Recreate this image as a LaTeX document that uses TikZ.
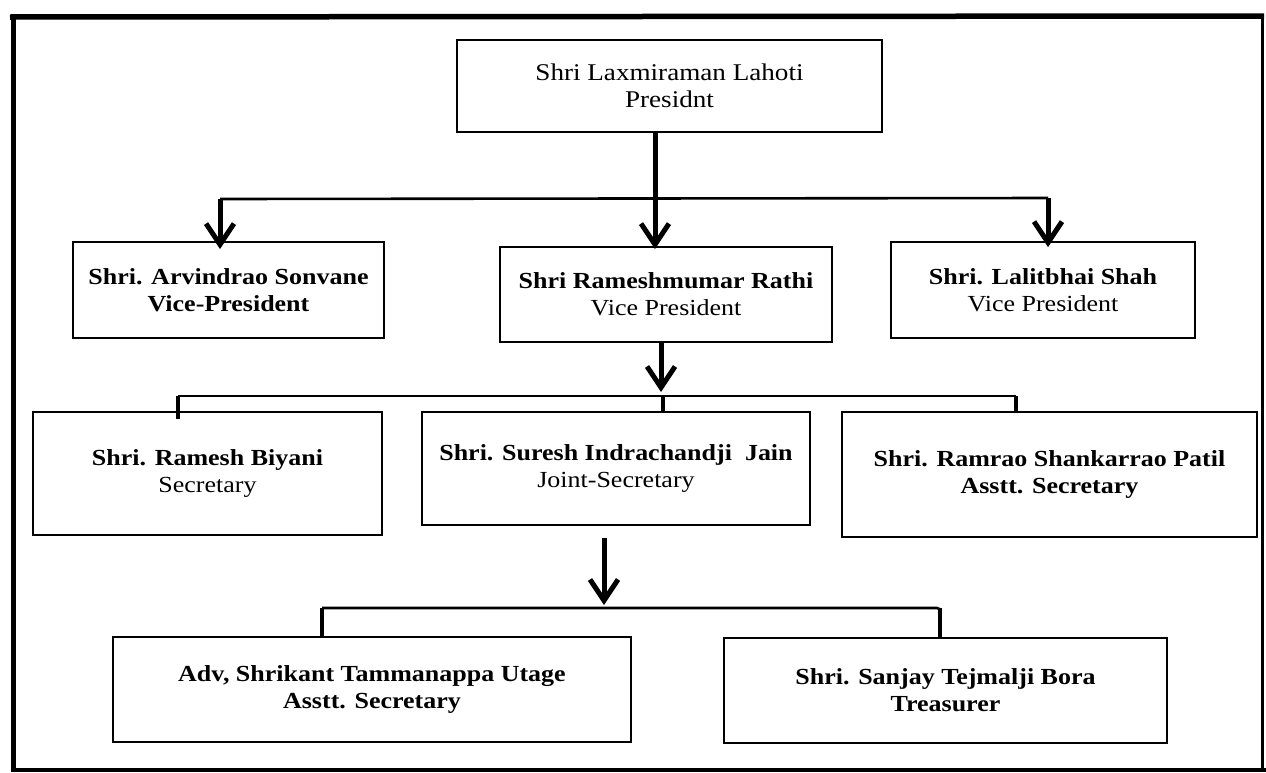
\documentclass[tikz,border=0pt]{standalone}
\usepackage{fontspec}
\setmainfont{Liberation Serif}[FakeStretch=1.13]
\usetikzlibrary{arrows.meta}
\tikzset{
  box/.style={draw, line width=1.8pt, inner sep=0pt, align=center,
    font=\fontsize{23}{27}\selectfont},
  shaft/.style={line width=5pt, -{Straight Barb[length=21pt,width=28pt]}},
  drop/.style={line width=4.5pt},
  bar/.style={line width=2.6pt},
  frameline/.style={line width=#1}
}
\begin{document}
\begin{tikzpicture}[x=1pt,y=-1pt]
\useasboundingbox (0,0) rectangle (1266,772);
% outer frame
\draw[frameline=5.5pt] (10,17) -- (1264,16);
\draw[frameline=5pt] (13,14) -- (13,772);
\draw[frameline=4pt] (13,769.5) -- (1266,769.5);
\draw[frameline=3pt] (1262,14) -- (1262,772);

% boxes
\node[box, minimum width=425pt, minimum height=92pt] (pres) at (669.5,86)
  {\fontsize{24}{27}\selectfont Shri Laxmiraman Lahoti\\\fontsize{24}{27}\selectfont Presidnt};
\node[box, minimum width=311pt, minimum height=96pt] (sonv) at (228.5,290)
  {\textbf{Shri. Arvindrao Sonvane}\\\textbf{Vice-President}};
\node[box, minimum width=332pt, minimum height=95pt] (rathi) at (666,294.5)
  {\textbf{Shri Rameshmumar Rathi}\\Vice President};
\node[box, minimum width=304pt, minimum height=96pt] (lalit) at (1043,290)
  {\textbf{Shri. Lalitbhai Shah}\\Vice President};
\node[box, minimum width=349pt, minimum height=123pt] (ramesh) at (207.5,473.5)
  {\textbf{Shri. Ramesh Biyani}\\Secretary};
\node[box, minimum width=388pt, minimum height=113pt] (jain) at (616,468.5)
  {\textbf{Shri. Suresh Indrachandji\ \ Jain}\\Joint-Secretary};
\node[box, minimum width=415pt, minimum height=125pt] (patil) at (1049.5,474.5)
  {\textbf{Shri. Ramrao Shankarrao Patil}\\\textbf{Asstt. Secretary}};
\node[box, minimum width=518pt, minimum height=105pt] (utage) at (372,689.5)
  {\textbf{Adv, Shrikant Tammanappa Utage}\\\textbf{Asstt. Secretary}};
\node[box, minimum width=443pt, minimum height=105pt] (bora) at (945.5,690.5)
  {\textbf{Shri. Sanjay Tejmalji Bora}\\\textbf{Treasurer}};

% bar coordinates
\coordinate (b1L) at (220,199);
\coordinate (b1R) at (1048,198);
\coordinate (b2L) at (178,396);
\coordinate (b2M) at (663,396);
\coordinate (b2R) at (1016,396);
\coordinate (a2) at (661,392);
\coordinate (b3L) at (322,608);
\coordinate (b3R) at (940,608);
\coordinate (a3) at (604,605);

% president to vice presidents
\draw[bar] (b1L) -- (b1R);
\draw[shaft] ([xshift=-14.5pt]pres.south) -- ([xshift=-11pt,yshift=-3pt]rathi.north);
\draw[shaft] (b1L) -- ([yshift=-8pt]sonv.north -| b1L);
\draw[shaft] (b1R) -- ([yshift=-6pt]lalit.north -| b1R);

% Rathi to secretaries
\draw[shaft] ([xshift=-5pt]rathi.south) -- (a2);
\draw[bar] (b2L) -- (b2R);
\draw[drop] (b2L) -- ([yshift=-8pt]ramesh.north -| b2L);
\draw[drop] (b2M) -- (jain.north -| b2M);
\draw[drop] (b2R) -- (patil.north -| b2R);

% Jain to bottom row
\draw[shaft] ([xshift=-12pt,yshift=-12pt]jain.south) -- (a3);
\draw[bar, rounded corners=3pt] (b3L) -- (b3R) -- (bora.north -| b3R);
\draw[drop] (b3L) -- (utage.north -| b3L);
\draw[drop] (b3R) -- (bora.north -| b3R);
\end{tikzpicture}
\end{document}
